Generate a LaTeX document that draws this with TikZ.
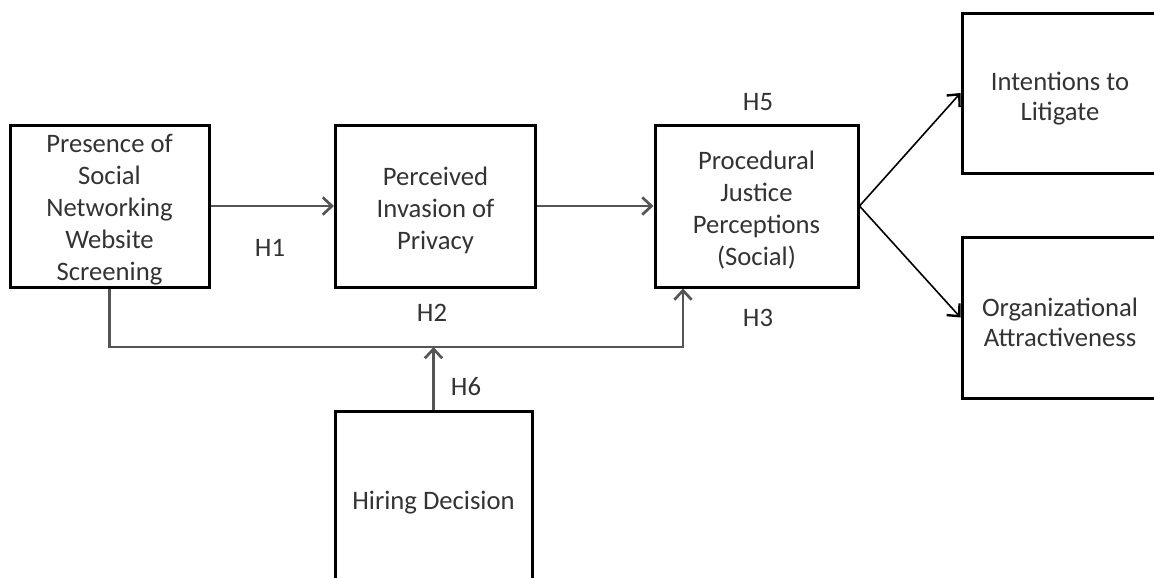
\documentclass[tikz,border=0pt]{standalone}
\usepackage{fontspec}
\setmainfont{Carlito}
\usetikzlibrary{arrows.meta}
\definecolor{txt}{HTML}{333333}
\definecolor{conn}{HTML}{555555}
\newcommand{\bxt}[2]{\raisebox{#1}[\height][\depth]{\begin{tabular}{@{}c@{}}#2\end{tabular}}}
\begin{document}
\begin{tikzpicture}[x=0.75pt,y=-0.75pt,
  box/.style={draw=black,line width=2.25pt,inner sep=0pt,align=center,text=txt,
    font=\fontsize{20}{24}\selectfont},
  tight/.style={font=\fontsize{20}{22.5}\selectfont},
  lbl/.style={text=txt,inner sep=0pt,font=\fontsize{20}{24}\selectfont},
  conn/.style={draw=conn,line width=1.6pt,-{Straight Barb[length=7pt,width=13pt,line width=2pt]}},
  diag/.style={draw=black,line width=1.2pt,-{Straight Barb[length=7pt,width=13pt,line width=1.8pt]}}]
\useasboundingbox (0,0) rectangle (1154,578);
\clip (0,0) rectangle (1154,578);
\node[box,minimum width=199*0.75pt,minimum height=162*0.75pt] (A) at (109.5,206)
  {\bxt{-3pt}{Presence of\\Social\\Networking\\Website\\Screening}};
\node[box,minimum width=200*0.75pt,minimum height=162*0.75pt] (B) at (435.5,206)
  {\bxt{-4pt}{Perceived\\Invasion of\\Privacy}};
\node[box,minimum width=203*0.75pt,minimum height=162*0.75pt] (C) at (756.5,206)
  {\bxt{-3.5pt}{Procedural\\Justice\\Perceptions\\(Social)}};
\node[box,tight,minimum width=196*0.75pt,minimum height=160*0.75pt] (D) at (1060,93)
  {\bxt{-5pt}{Intentions to\\Litigate}};
\node[box,tight,minimum width=196*0.75pt,minimum height=161*0.75pt] (E) at (1060,317.5)
  {\bxt{-6pt}{Organizational\\Attractiveness}};
\node[box,minimum width=197*0.75pt,minimum height=178*0.75pt] (F) at (433.5,500)
  {\bxt{-2pt}{Hiring Decision}};
\coordinate (bend) at (683,347);
\draw[conn] (A.east) -- (B.west);
\draw[conn] (B.east) -- (C.west);
\draw[diag] (C.east) -- (D.west);
\draw[diag] (C.east) -- (E.west);
\draw[conn] (A.south) |- (bend) -- (bend |- C.south);
\draw[conn] (F.north) -- (F.north |- bend);
\node[lbl] (h1) at (270,248) {H1};
\node[lbl] (h2) at (432,313) {H2};
\node[lbl] (h3) at (758,318) {H3};
\node[lbl] (h5) at (758,102) {H5};
\node[lbl] (h6) at (466,387) {H6};
\end{tikzpicture}
\end{document}
